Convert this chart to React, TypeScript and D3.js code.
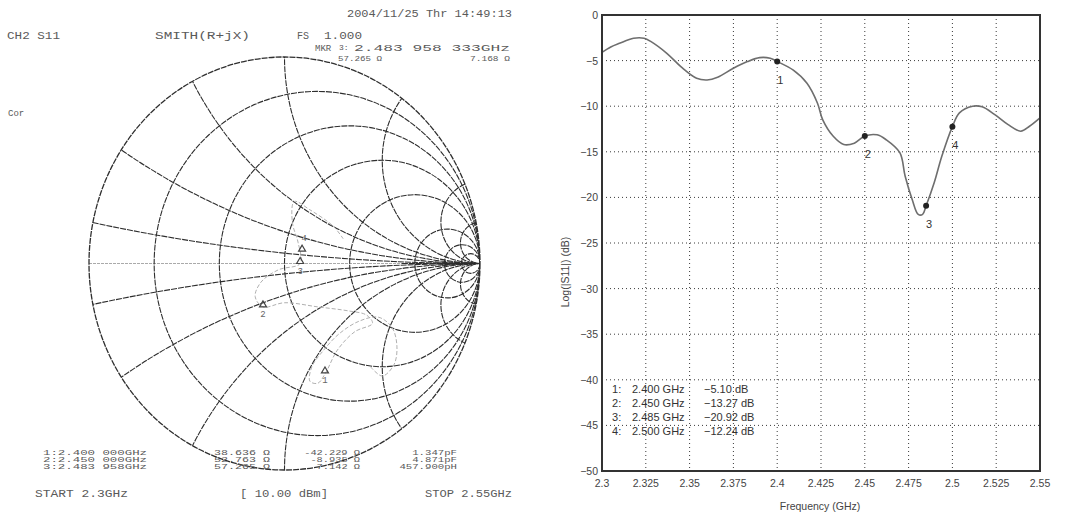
import React from 'react'
import * as d3 from 'd3'

// ---- Smith chart grid (normalised values) ----
const resistances = [0.2, 0.5, 1, 2, 5, 10, 20]
const reactances = [0.1, 0.3, 0.6, 1, 2, 5, 10]

// S11 locus (reflection coefficient)
const traceRe = [0.44, 0.5, 0.56, 0.575, 0.55, 0.48, 0.38, 0.28, 0.2, 0.14, 0.13, 0.17, 0.21, 0.27, 0.36, 0.45, 0.42, 0.33, 0.17, 0.0, -0.11, -0.15, -0.12, -0.03, 0.08, 0.07, 0.04, 0.05, 0.13, 0.25, 0.3]
const traceIm = [-0.5, -0.545, -0.49, -0.4, -0.31, -0.26, -0.28, -0.34, -0.42, -0.5, -0.57, -0.58, -0.53, -0.42, -0.33, -0.29, -0.25, -0.23, -0.21, -0.19, -0.21, -0.16, -0.09, -0.03, 0.0, 0.1, 0.2, 0.3, 0.26, 0.18, 0.12]

const smithMarkerNames = ['1', '2', '3', '4']
const smithMarkerRe = [0.207, -0.11, 0.08, 0.09]
const smithMarkerIm = [-0.53, -0.21, 0.0, 0.06]

// ---- log magnitude plot ----
const freqGHz = [2.3, 2.305, 2.31, 2.318, 2.324, 2.328, 2.337, 2.345, 2.354, 2.36, 2.366, 2.375, 2.383, 2.39, 2.396, 2.4, 2.409, 2.417, 2.423, 2.426, 2.432, 2.438, 2.444, 2.45, 2.457, 2.462, 2.47, 2.473, 2.477, 2.4805, 2.483, 2.485, 2.4896, 2.494, 2.5, 2.504, 2.5115, 2.517, 2.524, 2.5316, 2.539, 2.544, 2.55]
const s11dB = [-4.1, -3.5, -3.1, -2.55, -2.55, -2.92, -4.2, -5.66, -6.93, -7.12, -6.82, -5.84, -5.11, -4.67, -4.74, -5.1, -6.02, -7.48, -9.67, -11.5, -13.3, -14.2, -14.05, -13.27, -13.14, -13.65, -15.1, -17.66, -20.2, -21.86, -21.86, -20.92, -18.4, -15.47, -12.24, -10.73, -10.0, -10.07, -10.9, -12.0, -12.74, -12.2, -11.28]

const markerFreq = [2.4, 2.45, 2.485, 2.5]
const markerDb = [-5.1, -13.27, -20.92, -12.24]
const legendFreq = ['2.400 GHz', '2.450 GHz', '2.485 GHz', '2.500 GHz']
const legendDb = ['\u22125.10 dB', '\u221213.27 dB', '\u221220.92 dB', '\u221212.24 dB']

const xTicks = [2.3, 2.325, 2.35, 2.375, 2.4, 2.425, 2.45, 2.475, 2.5, 2.525, 2.55]
const xTickLabels = ['2.3', '2.325', '2.35', '2.375', '2.4', '2.425', '2.45', '2.475', '2.5', '2.525', '2.55']
const yTicks = [0, -5, -10, -15, -20, -25, -30, -35, -40, -45, -50]

// analyser annotation lines
const mkrFreqList = ['1:2.400 000GHz', '2:2.450 000GHz', '3:2.483 958GHz']
const mkrResList = ['38.636 \u03a9', '52.763 \u03a9', '57.265 \u03a9']
const mkrReacList = ['-42.229 \u03a9', '-8.935 \u03a9', '7.142 \u03a9']
const mkrCompList = ['1.347pF', '4.871pF', '457.900pH']

const mono = '"Liberation Mono", "DejaVu Sans Mono", monospace'
const sans = '"Liberation Sans", Arial, sans-serif'

const App: React.FC = () => {
    // Smith chart scales
    const sx = d3.scaleLinear().domain([-1, 1]).range([89, 480])
    const sy = d3.scaleLinear().domain([-1, 1]).range([470, 57])
    const kx = (sx(1) - sx(-1)) / 2
    const ky = (sy(-1) - sy(1)) / 2

    const trace = d3
        .line<number>()
        .x((i) => sx(traceRe[i]))
        .y((i) => sy(traceIm[i]))
        .curve(d3.curveCatmullRom.alpha(0.5))(traceRe.map((_, i) => i))

    // right plot scales
    const xs = d3.scaleLinear().domain([2.3, 2.55]).range([602, 1040])
    const ys = d3.scaleLinear().domain([-50, 0]).range([471, 15])

    const curve = d3
        .line<number>()
        .x((i) => xs(freqGHz[i]))
        .y((i) => ys(s11dB[i]))
        .curve(d3.curveCatmullRom.alpha(0.5))(freqGHz.map((_, i) => i))

    const gridCol = '#2e2e2e'
    const txt = '#5a5a5a'
    const listY = (i: number) => 455 + i * 7

    return (
        <svg
            width={1083}
            height={518}
            style={{ position: 'absolute', left: 0, top: 0, background: '#fff' }}
        >
            <defs>
                <clipPath id="unit">
                    <ellipse cx={sx(0)} cy={sy(0)} rx={kx} ry={ky} />
                </clipPath>
            </defs>

            {/* ---------- left: Smith chart ---------- */}
            <g fill="none" stroke={gridCol} strokeWidth={1.1} strokeDasharray="6,1">
                <g clipPath="url(#unit)">
                    <line x1={sx(-1)} x2={sx(1)} y1={sy(0)} y2={sy(0)} stroke="#aaa" strokeDasharray="3,1" />
                    <line x1={sx(0.6)} x2={sx(1)} y1={sy(0)} y2={sy(0)} />
                    {resistances.map((r) => (
                        <ellipse
                            key={'r' + r}
                            cx={sx(r / (1 + r))}
                            cy={sy(0)}
                            rx={kx / (1 + r)}
                            ry={ky / (1 + r)}
                        />
                    ))}
                    {reactances.flatMap((x) =>
                        [1, -1].map((s) => (
                            <ellipse
                                key={'x' + x + s}
                                cx={sx(1)}
                                cy={sy(s / x)}
                                rx={kx / x}
                                ry={ky / x}
                            />
                        ))
                    )}
                </g>
                <ellipse cx={sx(0)} cy={sy(0)} rx={kx} ry={ky} strokeWidth={1.3} />
            </g>

            <path d={trace ?? ''} fill="none" stroke="#b0b0b0" strokeWidth={1} strokeDasharray="4,2" />

            {smithMarkerNames.map((m, i) => {
                const px = sx(smithMarkerRe[i])
                const py = sy(smithMarkerIm[i])
                return (
                    <g key={'sm' + m}>
                        <path
                            d={`M${px},${py - 6} L${px - 3.5},${py} L${px + 3.5},${py} Z`}
                            fill="none"
                            stroke="#444"
                            strokeWidth={1.2}
                        />
                        <text
                            x={px + (i === 3 ? 2 : 0)}
                            y={py + (i === 3 ? -10 : 10)}
                            fontFamily={mono}
                            fontSize={9}
                            fill="#666"
                            textAnchor="middle"
                        >
                            {m}
                        </text>
                    </g>
                )
            })}

            {/* analyser annotations */}
            <g fontFamily={mono} fontSize={10} fill={txt}>
                <text x={347} y={17} textLength={165} lengthAdjust="spacingAndGlyphs">
                    2004/11/25 Thr 14:49:13
                </text>
                <text x={7} y={39} textLength={53} lengthAdjust="spacingAndGlyphs">
                    CH2 S11
                </text>
                <text x={155} y={39} textLength={95} lengthAdjust="spacingAndGlyphs">
                    SMITH(R+jX)
                </text>
                <text x={297} y={39}>FS</text>
                <text x={324} y={39} textLength={38} lengthAdjust="spacingAndGlyphs">
                    1.000
                </text>
                <text x={315} y={51} fontSize={9}>MKR</text>
                <text x={339} y={50} fontSize={8}>3:</text>
                <text x={354} y={51} fontSize={9} textLength={156} lengthAdjust="spacingAndGlyphs">
                    2.483 958 333GHz
                </text>
                <text x={338} y={61} fontSize={8} textLength={44} lengthAdjust="spacingAndGlyphs">
                    57.265 {'\u03a9'}
                </text>
                <text x={470} y={61} fontSize={8} textLength={40} lengthAdjust="spacingAndGlyphs">
                    7.168 {'\u03a9'}
                </text>
                <text x={8} y={116} fontSize={9}>Cor</text>

                {mkrFreqList.map((t, i) => (
                    <text key={'f' + i} x={43} y={listY(i)} fontSize={7.5} textLength={104} lengthAdjust="spacingAndGlyphs">
                        {t}
                    </text>
                ))}
                {mkrResList.map((t, i) => (
                    <text key={'r' + i} x={214} y={listY(i)} fontSize={7.5} textLength={56} lengthAdjust="spacingAndGlyphs">
                        {t}
                    </text>
                ))}
                {mkrReacList.map((t, i) => (
                    <text
                        key={'x' + i}
                        x={360}
                        y={listY(i)}
                        fontSize={7.5}
                        textAnchor="end"
                        textLength={t.length * 6.2}
                        lengthAdjust="spacingAndGlyphs"
                    >
                        {t}
                    </text>
                ))}
                {mkrCompList.map((t, i) => (
                    <text
                        key={'c' + i}
                        x={457}
                        y={listY(i)}
                        fontSize={7.5}
                        textAnchor="end"
                        textLength={t.length * 6.4}
                        lengthAdjust="spacingAndGlyphs"
                    >
                        {t}
                    </text>
                ))}

                <text x={35} y={497} textLength={93} lengthAdjust="spacingAndGlyphs">
                    START 2.3GHz
                </text>
                <text x={240} y={497} textLength={88} lengthAdjust="spacingAndGlyphs">
                    [ 10.00 dBm]
                </text>
                <text x={425} y={497} textLength={87} lengthAdjust="spacingAndGlyphs">
                    STOP 2.55GHz
                </text>
            </g>

            {/* ---------- right: log magnitude ---------- */}
            <g stroke="#3a3a3a" strokeWidth={1} strokeDasharray="1,3">
                {xTicks.slice(1, -1).map((t) => (
                    <line key={'gx' + t} x1={xs(t)} x2={xs(t)} y1={ys(0)} y2={ys(-50)} />
                ))}
                {yTicks.slice(1, -1).map((t) => (
                    <line key={'gy' + t} x1={xs(2.3)} x2={xs(2.55)} y1={ys(t)} y2={ys(t)} />
                ))}
            </g>

            <path d={curve ?? ''} fill="none" stroke="#6e6e6e" strokeWidth={1.6} />

            {markerFreq.map((f, i) => (
                <g key={'mk' + i}>
                    <circle cx={xs(f)} cy={ys(markerDb[i])} r={3} fill="#222" />
                    <text
                        x={xs(f) + 3}
                        y={ys(markerDb[i]) + 22}
                        fontFamily={sans}
                        fontSize={11}
                        fill="#333"
                        textAnchor="middle"
                    >
                        {i + 1}
                    </text>
                </g>
            ))}

            <rect
                x={xs(2.3)}
                y={ys(0)}
                width={xs(2.55) - xs(2.3)}
                height={ys(-50) - ys(0)}
                fill="none"
                stroke="#333"
                strokeWidth={2}
            />

            <g fontFamily={sans} fontSize={10.5} fill="#444">
                {yTicks.map((t) => (
                    <text key={'ty' + t} x={598} y={ys(t) + 4} textAnchor="end">
                        {t === 0 ? '0' : '\u2212' + Math.abs(t)}
                    </text>
                ))}
                {xTicks.map((t, i) => (
                    <text key={'tx' + t} x={xs(t)} y={487} textAnchor="middle">
                        {xTickLabels[i]}
                    </text>
                ))}
                <text x={820} y={510} textAnchor="middle">
                    Frequency (GHz)
                </text>
                <text transform="translate(569,272) rotate(-90)" textAnchor="middle">
                    Log(|S11|) (dB)
                </text>
            </g>

            <g fontFamily={sans} fontSize={11} fill="#333">
                {legendFreq.map((t, i) => (
                    <g key={'lg' + i}>
                        <text x={612} y={393 + i * 14}>{i + 1}:</text>
                        <text x={632} y={393 + i * 14}>{t}</text>
                        <text x={704} y={393 + i * 14}>{legendDb[i]}</text>
                    </g>
                ))}
            </g>
        </svg>
    )
}

export default App
